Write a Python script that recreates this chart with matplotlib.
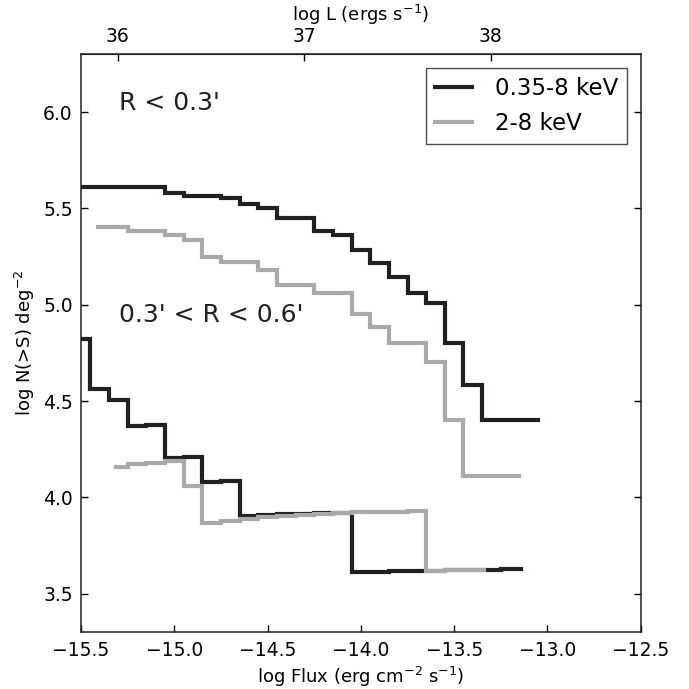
import matplotlib
matplotlib.use('Agg')
import matplotlib.pyplot as plt
import numpy as np

# bin left edges (log flux) and cumulative values, last edge = end of curve
# R < 0.3'
hi_full_edges = [-15.5, -15.05, -14.95, -14.75, -14.65, -14.55, -14.45, -14.25, -14.15,
                 -14.05, -13.95, -13.85, -13.75, -13.65, -13.55, -13.45, -13.35, -13.05]
hi_full_vals = [5.613, 5.582, 5.567, 5.552, 5.521, 5.504, 5.448, 5.382, 5.364,
                5.283, 5.218, 5.145, 5.059, 5.007, 4.803, 4.586, 4.404]

hi_hard_edges = [-15.41, -15.25, -15.05, -14.95, -14.85, -14.75, -14.55, -14.45, -14.25,
                 -14.05, -13.95, -13.85, -13.65, -13.55, -13.45, -13.15]
hi_hard_vals = [5.405, 5.382, 5.360, 5.335, 5.249, 5.221, 5.183, 5.105, 5.059,
                4.950, 4.884, 4.803, 4.704, 4.404, 4.110]

# 0.3' < R < 0.6'
lo_full_edges = [-15.5, -15.45, -15.35, -15.25, -15.15, -15.05, -14.95, -14.85, -14.75,
                 -14.65, -14.55, -14.45, -14.35, -14.25, -14.15, -14.05, -13.95, -13.85,
                 -13.75, -13.65, -13.55, -13.45, -13.35, -13.25, -13.14]
lo_full_vals = [4.82, 4.564, 4.508, 4.370, 4.378, 4.206, 4.211, 4.079, 4.084,
                3.902, 3.908, 3.912, 3.915, 3.918, 3.921, 3.612, 3.614, 3.616,
                3.618, 3.620, 3.622, 3.624, 3.625, 3.626]

lo_hard_edges = [-15.31, -15.25, -15.15, -15.05, -14.95, -14.85, -14.75, -14.65, -14.55,
                 -14.45, -14.35, -14.25, -14.15, -14.05, -13.95, -13.85, -13.75, -13.65,
                 -13.55, -13.34]
lo_hard_vals = [4.159, 4.171, 4.180, 4.188, 4.058, 3.865, 3.877, 3.890, 3.900,
                3.905, 3.910, 3.915, 3.920, 3.922, 3.924, 3.926, 3.928, 3.620, 3.622]

L_OFFSET = 51.303  # log L = log flux + offset

black = '#231f20'
grey = '#a7a9ac'

plt.rcParams['font.family'] = 'DejaVu Sans'

fig = plt.figure(figsize=(6.89, 6.89), dpi=100)
ax = fig.add_axes([0.1176, 0.0823, 0.8123, 0.8389])


def stairs(ax, edges, vals, **kw):
    y = list(vals) + [vals[-1]]
    return ax.step(edges, y, where='post', solid_joinstyle='miter', **kw)


stairs(ax, hi_full_edges, hi_full_vals, color=black, lw=3, label='0.35-8 keV')
stairs(ax, hi_hard_edges, hi_hard_vals, color=grey, lw=3, label='2-8 keV')
stairs(ax, lo_full_edges, lo_full_vals, color=black, lw=3)
stairs(ax, lo_hard_edges, lo_hard_vals, color=grey, lw=3)

fmt = matplotlib.ticker.FuncFormatter(lambda v, p: ('%.1f' % v).replace('-', '\u2212'))
ax.set_xlim(-15.5, -12.5)
ax.set_ylim(3.3, 6.3)
ax.set_xticks(np.arange(-15.5, -12.4, 0.5))
ax.set_yticks(np.arange(3.5, 6.01, 0.5))
ax.xaxis.set_major_formatter(fmt)
ax.yaxis.set_major_formatter(fmt)
ax.tick_params(direction='in', length=5, width=1, labelsize=13.5, right=True, top=False, pad=6)
for s in ax.spines.values():
    s.set_linewidth(1.1)
    s.set_color('#222222')

ax.set_xlabel('log Flux (erg cm$^{-2}$ s$^{-1}$)', fontsize=13)
ax.set_ylabel('log N(>S) deg$^{-2}$', fontsize=13)

top = ax.secondary_xaxis('top', functions=(lambda f: f + L_OFFSET, lambda l: l - L_OFFSET))
top.set_xticks([36, 37, 38])
top.tick_params(direction='in', length=5, width=1, labelsize=13.5, pad=6)
top.set_xlabel('log L (ergs s$^{-1}$)', fontsize=13)

ax.text(-15.295, 6.049, "R < 0.3'", fontsize=18, va='center', ha='left', color=black)
ax.text(-15.295, 4.946, "0.3' < R < 0.6'", fontsize=18, va='center', ha='left', color=black)

leg = ax.legend(loc='upper right', fontsize=16.5, fancybox=False, frameon=True,
                handlelength=1.6, handletextpad=1.0, borderaxespad=0.6)
leg.get_frame().set_edgecolor(black)
leg.get_frame().set_linewidth(1.0)

fig.savefig('out.png', dpi=100)
